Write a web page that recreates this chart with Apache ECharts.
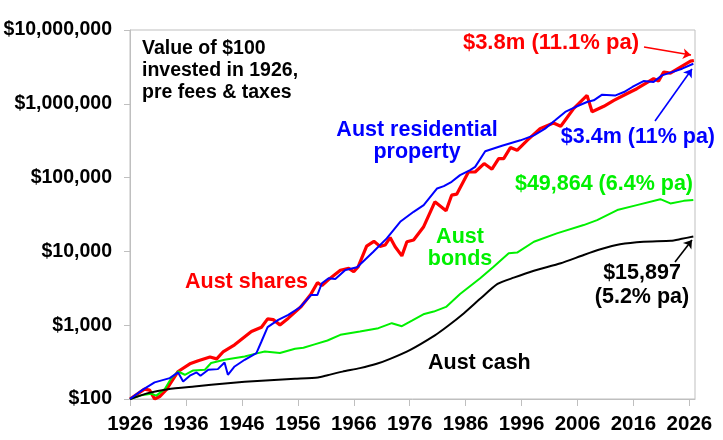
<!DOCTYPE html>
<html><head><meta charset="utf-8">
<script src="https://cdn.jsdelivr.net/npm/echarts@6/dist/echarts.min.js"></script>
<style>html,body{margin:0;padding:0;background:#fff}#c{width:723px;height:440px}</style>
</head><body><div id="c"></div>
<script>
const xTicks = [1926,1936,1946,1956,1966,1976,1986,1996,2006,2016,2026];
const yTicks = [100,1000,10000,100000,1000000,10000000];

const sharesData = [[1926,100],[1928.6,136],[1929.5,132],[1930.4,100],[1931.3,108],[1932.5,134],[1934.6,236],[1936.7,300],[1938.2,330],[1940.3,370],[1941.5,350],[1942.7,440],[1944.7,542],[1947.7,820],[1949.5,940],[1950.6,1220],[1951.6,1190],[1952.8,1010],[1954.3,1245],[1956.6,1790],[1958.3,2600],[1959.5,3770],[1960.3,3450],[1961.4,4100],[1963.6,5550],[1965.1,5900],[1966,5300],[1966.8,6210],[1968.3,11800],[1969.6,13700],[1970.7,11700],[1971.6,12200],[1972.5,15400],[1973.4,11560],[1974.6,8700],[1975.5,13520],[1976.7,14260],[1978.5,21600],[1980.5,47000],[1982.5,35500],[1983.5,57800],[1984.4,59700],[1986.5,119000],[1987.7,119000],[1989.3,155000],[1990.7,130000],[1991.9,181000],[1992.8,181000],[1994,255000],[1995.2,234000],[1997,320000],[1999.3,461000],[2001.7,550000],[2003,496000],[2005.3,859000],[2007.7,1300000],[2008.6,780000],[2010.7,925000],[2012.5,1115000],[2014.8,1370000],[2016.6,1600000],[2018.1,1870000],[2019.6,2190000],[2020.5,2040000],[2021.4,2690000],[2022.6,2600000],[2024.4,3140000],[2026.2,3790000],[2026.8,3860000]];

const propertyData = [[1926,100],[1928.3,134],[1930.4,168],[1933.1,192],[1934.6,229],[1935.5,173],[1936.7,207],[1937.9,229],[1938.6,207],[1940,249],[1941.7,254],[1942.9,312],[1943.5,213],[1944.7,276],[1946.5,340],[1948.6,419],[1949.5,601],[1950.6,940],[1952.5,1180],[1954.3,1380],[1956.4,1750],[1958.4,2570],[1959.5,2570],[1960.3,3700],[1961.5,4330],[1962.7,4230],[1964.5,5600],[1966.6,6100],[1969.5,9900],[1971.9,15000],[1974.3,25200],[1976.7,34400],[1978.5,42400],[1980.9,71300],[1982.1,76600],[1983.5,87600],[1985,108000],[1986.8,126000],[1987.7,139600],[1989.5,228000],[1992.5,270000],[1995.8,320000],[1998.2,374000],[2000.2,461000],[2002,597000],[2003.8,775000],[2005.6,904000],[2007.7,1057000],[2008.9,1115000],[2010.4,1330000],[2012.8,1300000],[2014.3,1443000],[2015.8,1690000],[2017.8,2030000],[2019.6,1980000],[2021.1,2430000],[2022.9,2690000],[2024.7,2990000],[2026.7,3490000]];

const bondsData = [[1926,100],[1928,112],[1929.8,118],[1930.7,111],[1932.2,136],[1933.4,192],[1934.6,236],[1935.8,213],[1937.3,244],[1939.4,249],[1940.5,307],[1942.9,340],[1946.5,377],[1948.3,409],[1950.1,440],[1952.8,419],[1955.5,479],[1957,495],[1959,550],[1961.3,620],[1963.6,741],[1967.1,820],[1970.4,912],[1972.8,1065],[1974.6,970],[1976.4,1150],[1978.6,1420],[1980.3,1530],[1982.5,1770],[1985,2640],[1988.6,4330],[1991,6210],[1993.7,9420],[1995.2,9630],[1998.2,13520],[2002.3,17540],[2007.1,22740],[2009.5,26570],[2013.1,36300],[2016.6,42400],[2020.8,51000],[2022.6,44700],[2025,48400],[2026.7,49864]];

const cashData = [[1926,100],[1929.2,120],[1932.8,136],[1937.5,148],[1943.5,164],[1949.5,177],[1955.5,188],[1959.6,196],[1961.3,210],[1964,235],[1967.1,262],[1970.1,300],[1972.5,350],[1976.1,464],[1980.5,730],[1982.7,960],[1985.7,1455],[1988.7,2320],[1991.7,3620],[1994.6,4410],[1998.2,5480],[2003,6900],[2007.1,8940],[2010.1,10670],[2013.6,12470],[2017.8,13520],[2022.7,13930],[2024.4,14680],[2026.7,15897]];

const FONT = '"Liberation Sans", Arial, Helvetica, sans-serif';
const RED = '#ff0000', BLUE = '#0000ff', GREEN = '#00f000', BLACK = '#000000', GRAY = '#bfbfbf';

function fmtMoney(v){ return '$' + Math.round(v).toLocaleString('en-US'); }

function txt(text, x, y, color, size, align, lh){
  return { type:'text', x:x, y:y, silent:true, z:100,
    style:{ text:text, fill:color, font:'bold '+size+'px '+FONT,
      align:align, textAlign:align, verticalAlign:'middle', textVerticalAlign:'middle',
      lineHeight: lh || size+2 } };
}
function arrow(color, x1, y1, x2, y2){
  return { silent:true, symbol:['none','arrow'], symbolSize:8, animation:false,
    lineStyle:{ color:color, width:1.6, type:'solid' }, label:{ show:false },
    emphasis:{ disabled:true },
    data:[[{x:x1,y:y1},{x:x2,y:y2}]] };
}

const chart = echarts.init(document.getElementById('c'), null, {renderer:'canvas'});
chart.setOption({
  animation:false,
  backgroundColor:'#ffffff',
  grid:{ left:130, right:28, top:30, bottom:41, show:true, borderColor:GRAY, borderWidth:1, containLabel:false },
  xAxis:{ type:'value', min:1926, max:2027,
    axisLine:{ show:true, lineStyle:{ color:GRAY, width:1 } },
    axisTick:{ show:true, inside:false, length:7, lineStyle:{ color:GRAY }, customValues:xTicks },
    axisLabel:{ customValues:xTicks, margin:15, color:'#000', fontWeight:'bold', fontSize:20.5, fontFamily:FONT,
      formatter:function(v){ return String(Math.round(v)); } },
    splitLine:{ show:false }
  },
  yAxis:{ type:'log', logBase:10, min:100, max:10000000,
    axisLine:{ show:true, lineStyle:{ color:GRAY, width:1 } },
    axisTick:{ show:true, inside:false, length:6, lineStyle:{ color:GRAY } },
    minorTick:{ show:false },
    axisLabel:{ margin:18, color:'#000', fontWeight:'bold', fontSize:19.5, fontFamily:FONT, formatter:fmtMoney },
    splitLine:{ show:false }
  },
  series:[
    { name:'Aust shares', type:'line', data:sharesData, showSymbol:false, symbol:'none',
      lineStyle:{ color:RED, width:3.2 }, itemStyle:{color:RED}, z:2,
      markLine: arrow(RED, 644, 47, 691, 55) },
    { name:'Aust residential property', type:'line', data:propertyData, showSymbol:false, symbol:'none',
      lineStyle:{ color:BLUE, width:2 }, itemStyle:{color:BLUE}, z:3,
      markLine: arrow(BLUE, 655, 121, 692, 69) },
    { name:'Aust bonds', type:'line', data:bondsData, showSymbol:false, symbol:'none',
      lineStyle:{ color:GREEN, width:2 }, itemStyle:{color:GREEN}, z:2 },
    { name:'Aust cash', type:'line', data:cashData, showSymbol:false, symbol:'none', smooth:0.2,
      lineStyle:{ color:BLACK, width:2 }, itemStyle:{color:BLACK}, z:2,
      markLine: arrow(BLACK, 675, 262, 692, 240) }
  ],
  graphic:[
    txt('Value of $100\ninvested in 1926,\npre fees & taxes', 142, 71, '#000', 19.5, 'left', 22),
    txt('$3.8m (11.1% pa)', 639, 43, RED, 22, 'right'),
    txt('Aust residential\nproperty', 417, 141, BLUE, 21.5, 'center', 22),
    txt('$3.4m (11% pa)', 715, 137, BLUE, 21.5, 'right'),
    txt('$49,864 (6.4% pa)', 693, 184, GREEN, 21.5, 'right'),
    txt('Aust\nbonds', 460, 248, GREEN, 21.5, 'center', 22),
    txt('Aust shares', 185, 282, RED, 21.5, 'left'),
    txt('Aust cash', 428, 363, BLACK, 21.5, 'left'),
    txt('$15,897\n(5.2% pa)', 642, 285, BLACK, 21.5, 'center', 24)
  ]
});
</script>
</body></html>
